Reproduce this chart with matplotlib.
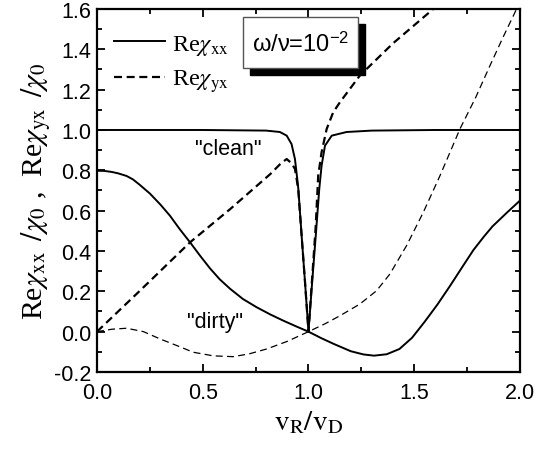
import matplotlib
matplotlib.use('Agg')
import matplotlib.pyplot as plt
from matplotlib.patches import Rectangle
from matplotlib.ticker import MultipleLocator

plt.rcParams['mathtext.fontset'] = 'stix'
plt.rcParams['font.family'] = ['Liberation Sans', 'DejaVu Sans']
plt.rcParams['axes.unicode_minus'] = False

# "dirty" Re chi_xx (solid, smooth)
x_xx_dirty = [0.0, 0.035, 0.07, 0.1, 0.14, 0.17, 0.2, 0.25, 0.3, 0.345, 0.39, 0.44, 0.49, 0.535, 0.58,
              0.63, 0.69, 0.755, 0.82, 0.88, 0.94, 1.0, 1.06, 1.12, 1.2, 1.26, 1.31, 1.37, 1.43,
              1.49, 1.55, 1.61, 1.67, 1.73, 1.78, 1.83, 1.87, 1.94, 2.0]
y_xx_dirty = [0.798, 0.797, 0.792, 0.785, 0.772, 0.755, 0.73, 0.685, 0.63, 0.575, 0.51, 0.443, 0.373,
              0.313, 0.26, 0.212, 0.162, 0.121, 0.085, 0.055, 0.027, 0.0, -0.032, -0.061, -0.097,
              -0.113, -0.119, -0.112, -0.086, -0.03, 0.05, 0.135, 0.228, 0.325, 0.405, 0.472,
              0.522, 0.592, 0.65]

# "clean" Re chi_xx (solid, sharp dip)
x_xx_clean = [0.0, 0.5, 0.8, 0.865, 0.897, 0.92, 0.936, 0.947, 0.952, 0.968, 0.984, 1.0,
              1.017, 1.034, 1.051, 1.062, 1.078, 1.11, 1.18, 1.3, 1.6, 2.0]
y_xx_clean = [1.0, 1.0, 0.997, 0.99, 0.972, 0.93, 0.856, 0.757, 0.708, 0.47, 0.24, 0.0,
              0.24, 0.47, 0.708, 0.823, 0.922, 0.972, 0.99, 0.997, 1.0, 1.0]

# "clean" Re chi_yx (heavy dashed)
x_yx_clean = [0.0, 0.2, 0.44, 0.63, 0.82, 0.87, 0.897, 0.92, 0.936, 0.944, 0.952, 0.968, 0.984, 1.0,
              1.017, 1.034, 1.046, 1.062, 1.086, 1.117, 1.149, 1.243, 1.4, 1.59, 1.7]
y_yx_clean = [0.0, 0.2, 0.443, 0.608, 0.782, 0.835, 0.856, 0.835, 0.807, 0.757, 0.7, 0.47, 0.24, 0.0,
              0.26, 0.52, 0.774, 0.89, 1.005, 1.088, 1.138, 1.27, 1.43, 1.6, 1.7]

# "dirty" Re chi_yx (thin dashed)
x_yx_dirty = [0.0, 0.07, 0.14, 0.22, 0.298, 0.38, 0.455, 0.55, 0.644, 0.72, 0.802, 0.9, 1.0,
              1.08, 1.149, 1.243, 1.322, 1.385, 1.464, 1.543, 1.622, 1.669, 1.716, 1.79, 1.858,
              1.92, 1.984]
y_yx_dirty = [0.0, 0.012, 0.017, 0.0, -0.036, -0.07, -0.102, -0.12, -0.124, -0.11, -0.086, -0.048, 0.0,
              0.04, 0.079, 0.137, 0.203, 0.286, 0.427, 0.592, 0.774, 0.889, 1.005, 1.16, 1.319,
              1.46, 1.6]

fig = plt.figure(figsize=(5.37, 4.52), dpi=100)
ax = fig.add_axes([0.1806, 0.1748, 0.7877, 0.8031])

l1, = ax.plot(x_xx_clean, y_xx_clean, 'k-', lw=1.4)
ax.plot(x_xx_dirty, y_xx_dirty, 'k-', lw=1.4)
l2, = ax.plot(x_yx_clean, y_yx_clean, 'k', lw=1.6, dashes=(3.6, 2.1))
ax.plot(x_yx_dirty, y_yx_dirty, 'k', lw=0.9, dashes=(5.6, 3.4))

ax.set_xlim(0, 2.0)
ax.set_ylim(-0.2, 1.6)
ax.xaxis.set_major_locator(MultipleLocator(0.5))
ax.xaxis.set_minor_locator(MultipleLocator(0.25))
ax.yaxis.set_major_locator(MultipleLocator(0.2))
ax.yaxis.set_minor_locator(MultipleLocator(0.1))
ax.tick_params(which='both', direction='in', top=True, right=True, width=1.3, labelsize=15.5)
ax.tick_params(which='major', length=6)
ax.tick_params(which='minor', length=3.5)
ax.tick_params(axis='x', pad=7)
ax.tick_params(axis='y', pad=4)
for s in ax.spines.values():
    s.set_linewidth(1.6)

serif = ['Liberation Serif', 'DejaVu Serif']
ax.set_xlabel(r'$\mathrm{v}_{\mathrm{R}}/\mathrm{v}_{\mathrm{D}}$', fontsize=21, family=serif, labelpad=4)
ax.set_ylabel(r'Re$\chi_{\mathrm{xx}}\ \,/\chi_0$ ,  Re$\chi_{\mathrm{yx}}\ \,/\chi_0$', fontsize=21.5,
              family=serif, labelpad=1)

leg = ax.legend([l1, l2], [r'Re$\chi_{\mathrm{xx}}$', r'Re$\chi_{\mathrm{yx}}$'],
                loc='upper left', bbox_to_anchor=(0.005, 0.975), frameon=False,
                prop={'family': serif, 'size': 17.5}, handlelength=2.1, handletextpad=0.3,
                labelspacing=0.45, borderaxespad=0.2)

# omega/nu box with black shadow
ax.add_patch(Rectangle((0.362, 0.818), 0.272, 0.141, transform=ax.transAxes,
                       facecolor='black', edgecolor='black', zorder=4))
ax.add_patch(Rectangle((0.345, 0.837), 0.272, 0.141, transform=ax.transAxes,
                       facecolor='white', edgecolor='#555555', lw=1.0, zorder=5))
ax.text(0.481, 0.905, r'ω/ν=10$^{\mathregular{-2}}$', transform=ax.transAxes, fontsize=17,
        ha='center', va='center', zorder=6)

ax.text(0.62, 0.91, '"clean"', fontsize=15.5, ha='center', va='center')
ax.text(0.558, 0.05, '"dirty"', fontsize=15.5, ha='center', va='center')

fig.savefig('out.png', dpi=100)
